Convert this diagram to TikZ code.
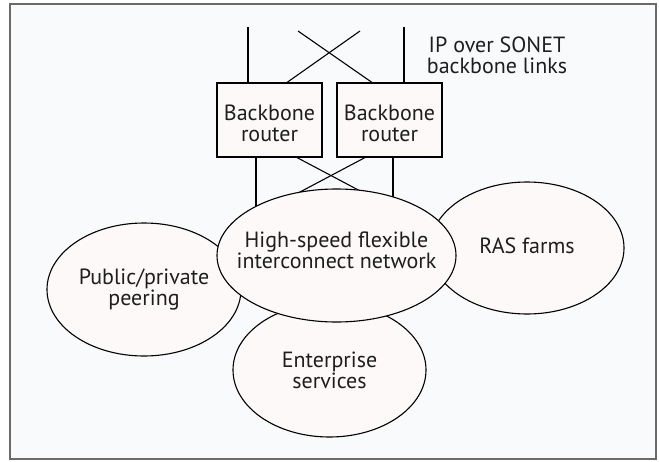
\documentclass[tikz,border=0pt]{standalone}
\usepackage{fontspec}
\setmainfont{PT Sans}
\usetikzlibrary{shapes.geometric}
\definecolor{bgc}{HTML}{F8FAFC}
\definecolor{shapefill}{HTML}{FDF9F8}
\definecolor{framec}{HTML}{6A6A6A}
\definecolor{txt}{HTML}{1E1E1E}
\tikzset{
  lbl/.style={font=\fontsize{22}{21}\selectfont, text=txt, align=center},
  router/.style={draw=black, line width=1.1pt, fill=shapefill, minimum width=105pt, minimum height=74pt, inner sep=0pt},
  blob/.style={ellipse, draw=black, line width=1.1pt, fill=shapefill, inner sep=0pt},
  link/.style={draw=black, line width=1.1pt},
}
\begin{document}
\begin{tikzpicture}[x=1pt,y=-1pt]
\useasboundingbox (0,0) rectangle (659,461);
\fill[white] (0,0) rectangle (659,461);
\draw[draw=framec, line width=1.8pt, fill=bgc] (10,4) rectangle (656,459);

% routers
\node[router, label={[lbl, yshift=-3pt]center:Backbone\\router}] (b1) at (269.5,120) {};
\node[router, label={[lbl, yshift=-3pt]center:Backbone\\router}] (b2) at (389.5,120) {};

% top links
\coordinate (t1) at (248,27);
\coordinate (t2) at (404,27);
\coordinate (t3) at (298,31);
\coordinate (t4) at (360,31);
\draw[link] (t1) -- (t1 |- b1.north);
\draw[link] (t2) -- (t2 |- b2.north);
\draw[link] (t3) -- ([xshift=-17.5pt]b2.north);
\draw[link] (t4) -- ([xshift=17.5pt]b1.north);

\node[lbl] (ip) at (497,55) {IP over SONET\\backbone links};

% ellipses (outer ones first)
\node[blob, minimum width=194pt, minimum height=133pt, label={[lbl]center:Public/private\\peering}] (peer) at (144,289.5) {};
\node[blob, minimum width=193pt, minimum height=134pt, label={[lbl]center:Enterprise\\services}] (ent) at (329.5,370) {};
\node[blob, minimum width=194pt, minimum height=132pt, label={[lbl, yshift=2pt]center:RAS farms}] (ras) at (527,248) {};

% lower links (drawn before central network, which covers their ends)
\coordinate (c1) at (256,250);
\coordinate (c2) at (393,250);
\coordinate (c3) at (378.5,200.7);
\coordinate (c4) at (279.6,202.8);
\draw[link] (c1 |- b1.south) -- (c1);
\draw[link] (c2 |- b2.south) -- (c2);
\draw[link] ([xshift=27.5pt]b1.south) -- (c3);
\draw[link] ([xshift=-24.5pt]b2.south) -- (c4);

\node[blob, minimum width=239pt, minimum height=133pt, label={[lbl, yshift=5pt]center:High-speed flexible\\interconnect network}] (net) at (336.5,255.5) {};
\end{tikzpicture}
\end{document}
